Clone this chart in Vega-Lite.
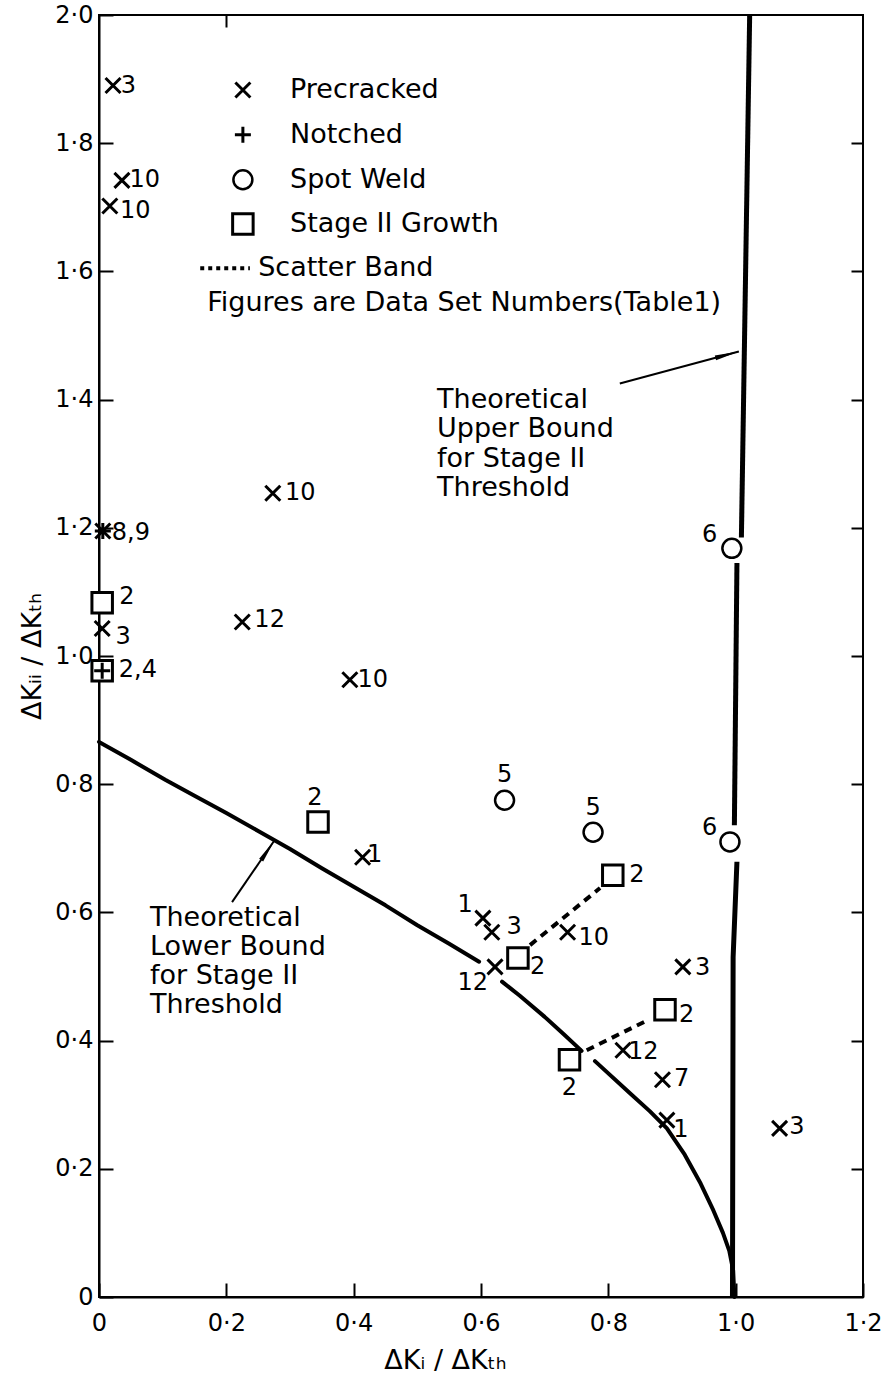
{
  "$schema": "https://vega.github.io/schema/vega-lite/v6.json",
  "width": 764,
  "height": 1282,
  "autosize": {"type": "none"},
  "padding": {"left": 99, "top": 15, "right": 20, "bottom": 91},
  "background": "white",
  "config": {
    "view": {"stroke": "black", "strokeWidth": 2},
    "font": "DejaVu Sans",
    "text": {"font": "DejaVu Sans"}
  },
  "datasets": {
    "pts": [
      {"type": "Precracked", "x": 0.022, "y": 1.89},
      {"type": "Precracked", "x": 0.036, "y": 1.742},
      {"type": "Precracked", "x": 0.017, "y": 1.702},
      {"type": "Precracked", "x": 0.006, "y": 1.195},
      {"type": "Precracked", "x": 0.005, "y": 1.043},
      {"type": "Precracked", "x": 0.273, "y": 1.254},
      {"type": "Precracked", "x": 0.225, "y": 1.053},
      {"type": "Precracked", "x": 0.394, "y": 0.963},
      {"type": "Precracked", "x": 0.414, "y": 0.686},
      {"type": "Precracked", "x": 0.603, "y": 0.591},
      {"type": "Precracked", "x": 0.617, "y": 0.569},
      {"type": "Precracked", "x": 0.736, "y": 0.569},
      {"type": "Precracked", "x": 0.622, "y": 0.515},
      {"type": "Precracked", "x": 0.917, "y": 0.515},
      {"type": "Precracked", "x": 0.823, "y": 0.385},
      {"type": "Precracked", "x": 0.885, "y": 0.339},
      {"type": "Precracked", "x": 0.892, "y": 0.276},
      {"type": "Precracked", "x": 1.069, "y": 0.263},
      {"type": "Notched", "x": 0.006, "y": 1.195},
      {"type": "Notched", "x": 0.005, "y": 0.977},
      {"type": "Spot Weld", "x": 0.637, "y": 0.775},
      {"type": "Spot Weld", "x": 0.776, "y": 0.725},
      {"type": "Spot Weld", "x": 0.994, "y": 1.168},
      {"type": "Spot Weld", "x": 0.991, "y": 0.71},
      {"type": "Stage II Growth", "x": 0.005, "y": 1.083},
      {"type": "Stage II Growth", "x": 0.005, "y": 0.977},
      {"type": "Stage II Growth", "x": 0.344, "y": 0.741},
      {"type": "Stage II Growth", "x": 0.807, "y": 0.658},
      {"type": "Stage II Growth", "x": 0.658, "y": 0.529},
      {"type": "Stage II Growth", "x": 0.889, "y": 0.448},
      {"type": "Stage II Growth", "x": 0.739, "y": 0.37},
      {"type": "Precracked", "x": 0.226, "y": 1.883, "key": true},
      {"type": "Notched", "x": 0.226, "y": 1.813, "key": true},
      {"type": "Spot Weld", "x": 0.226, "y": 1.743, "key": true},
      {"type": "Stage II Growth", "x": 0.226, "y": 1.674, "key": true}
    ],
    "nums": [
      {"label": "3", "x": 0.046, "y": 1.89},
      {"label": "10", "x": 0.072, "y": 1.742},
      {"label": "10", "x": 0.057, "y": 1.694},
      {"label": "8,9", "x": 0.05, "y": 1.192},
      {"label": "2", "x": 0.044, "y": 1.092},
      {"label": "3", "x": 0.038, "y": 1.03},
      {"label": "2,4", "x": 0.061, "y": 0.978},
      {"label": "10", "x": 0.316, "y": 1.254},
      {"label": "12", "x": 0.268, "y": 1.056},
      {"label": "10", "x": 0.43, "y": 0.963},
      {"label": "2", "x": 0.339, "y": 0.778},
      {"label": "1", "x": 0.433, "y": 0.69},
      {"label": "5", "x": 0.637, "y": 0.814},
      {"label": "5", "x": 0.776, "y": 0.763},
      {"label": "6", "x": 0.959, "y": 1.189},
      {"label": "6", "x": 0.959, "y": 0.732},
      {"label": "1", "x": 0.575, "y": 0.612},
      {"label": "3", "x": 0.652, "y": 0.577},
      {"label": "10", "x": 0.777, "y": 0.56},
      {"label": "2", "x": 0.689, "y": 0.515},
      {"label": "12", "x": 0.587, "y": 0.49},
      {"label": "2", "x": 0.845, "y": 0.658},
      {"label": "3", "x": 0.948, "y": 0.513},
      {"label": "2", "x": 0.923, "y": 0.44},
      {"label": "12", "x": 0.855, "y": 0.382},
      {"label": "2", "x": 0.739, "y": 0.326},
      {"label": "7", "x": 0.915, "y": 0.34},
      {"label": "1", "x": 0.914, "y": 0.26},
      {"label": "3", "x": 1.096, "y": 0.265}
    ],
    "notes": [
      {"text": "Precracked", "x": 0.3, "y": 1.883},
      {"text": "Notched", "x": 0.3, "y": 1.813},
      {"text": "Spot Weld", "x": 0.3, "y": 1.743},
      {"text": "Stage II Growth", "x": 0.3, "y": 1.674},
      {"text": "Scatter Band", "x": 0.25, "y": 1.605},
      {"text": "Figures are Data Set Numbers(Table1)", "x": 0.17, "y": 1.551},
      {"text": "Theoretical", "x": 0.531, "y": 1.4},
      {"text": "Upper Bound", "x": 0.531, "y": 1.354},
      {"text": "for Stage II", "x": 0.531, "y": 1.308},
      {"text": "Threshold", "x": 0.531, "y": 1.262},
      {"text": "Theoretical", "x": 0.08, "y": 0.591},
      {"text": "Lower Bound", "x": 0.08, "y": 0.546},
      {"text": "for Stage II", "x": 0.08, "y": 0.501},
      {"text": "Threshold", "x": 0.08, "y": 0.456}
    ],
    "curves": [
      {"kind": "lower", "seg": "a", "i": 1, "x": 0, "y": 0.866},
      {"kind": "lower", "seg": "a", "i": 2, "x": 0.05, "y": 0.838},
      {"kind": "lower", "seg": "a", "i": 3, "x": 0.104, "y": 0.807},
      {"kind": "lower", "seg": "a", "i": 4, "x": 0.15, "y": 0.782},
      {"kind": "lower", "seg": "a", "i": 5, "x": 0.2, "y": 0.755},
      {"kind": "lower", "seg": "a", "i": 6, "x": 0.25, "y": 0.727},
      {"kind": "lower", "seg": "a", "i": 7, "x": 0.3, "y": 0.699},
      {"kind": "lower", "seg": "a", "i": 8, "x": 0.35, "y": 0.669},
      {"kind": "lower", "seg": "a", "i": 9, "x": 0.4, "y": 0.64},
      {"kind": "lower", "seg": "a", "i": 10, "x": 0.45, "y": 0.611},
      {"kind": "lower", "seg": "a", "i": 11, "x": 0.5, "y": 0.58},
      {"kind": "lower", "seg": "a", "i": 12, "x": 0.55, "y": 0.551},
      {"kind": "lower", "seg": "a", "i": 13, "x": 0.597, "y": 0.523},
      {"kind": "lower", "seg": "b", "i": 1, "x": 0.633, "y": 0.492},
      {"kind": "lower", "seg": "b", "i": 2, "x": 0.661, "y": 0.47},
      {"kind": "lower", "seg": "b", "i": 3, "x": 0.7, "y": 0.437},
      {"kind": "lower", "seg": "b", "i": 4, "x": 0.73, "y": 0.41},
      {"kind": "lower", "seg": "b", "i": 5, "x": 0.758, "y": 0.384},
      {"kind": "lower", "seg": "c", "i": 1, "x": 0.779, "y": 0.368},
      {"kind": "lower", "seg": "c", "i": 2, "x": 0.834, "y": 0.318},
      {"kind": "lower", "seg": "c", "i": 3, "x": 0.865, "y": 0.29},
      {"kind": "lower", "seg": "c", "i": 4, "x": 0.892, "y": 0.263},
      {"kind": "lower", "seg": "c", "i": 5, "x": 0.92, "y": 0.222},
      {"kind": "lower", "seg": "c", "i": 6, "x": 0.945, "y": 0.177},
      {"kind": "lower", "seg": "c", "i": 7, "x": 0.965, "y": 0.135},
      {"kind": "lower", "seg": "c", "i": 8, "x": 0.98, "y": 0.1},
      {"kind": "lower", "seg": "c", "i": 9, "x": 0.99, "y": 0.072},
      {"kind": "lower", "seg": "c", "i": 10, "x": 0.996, "y": 0.042},
      {"kind": "lower", "seg": "c", "i": 11, "x": 0.998, "y": 0.0},
      {"kind": "upper", "seg": "u1", "i": 1, "x": 1.022, "y": 2.0},
      {"kind": "upper", "seg": "u1", "i": 2, "x": 1.009, "y": 1.185},
      {"kind": "upper", "seg": "u2", "i": 1, "x": 1.002, "y": 1.145},
      {"kind": "upper", "seg": "u2", "i": 2, "x": 0.998, "y": 0.736},
      {"kind": "upper", "seg": "u3", "i": 1, "x": 1.002, "y": 0.679},
      {"kind": "upper", "seg": "u3", "i": 2, "x": 0.996, "y": 0.53},
      {"kind": "upper", "seg": "u3", "i": 3, "x": 0.995, "y": 0.0},
      {"kind": "band", "seg": "s1", "i": 1, "x": 0.677, "y": 0.549},
      {"kind": "band", "seg": "s1", "i": 2, "x": 0.787, "y": 0.638},
      {"kind": "band", "seg": "s2", "i": 1, "x": 0.766, "y": 0.385},
      {"kind": "band", "seg": "s2", "i": 2, "x": 0.862, "y": 0.432},
      {"kind": "key", "seg": "k", "i": 1, "x": 0.159, "y": 1.605},
      {"kind": "key", "seg": "k", "i": 2, "x": 0.237, "y": 1.605}
    ],
    "arrows": [
      {"id": "upper", "x": 0.818, "y": 1.425, "x2": 1.005, "y2": 1.475},
      {"id": "lower", "x": 0.209, "y": 0.616, "x2": 0.276, "y2": 0.713}
    ]
  },
  "resolve": {"axis": {"x": "independent", "y": "independent"}},
  "encoding": {
    "x": {"field": "x", "type": "quantitative", "scale": {"domain": [0, 1.2], "nice": false, "zero": false}, "axis": null},
    "y": {"field": "y", "type": "quantitative", "scale": {"domain": [0, 2], "nice": false, "zero": false}, "axis": null}
  },
  "layer": [
    {
      "data": {"name": "curves"},
      "transform": [{"filter": "datum.kind === 'lower'"}],
      "mark": {"type": "line", "color": "black", "strokeWidth": 4, "strokeCap": "round", "strokeJoin": "round"},
      "encoding": {
        "x": {"field": "x", "type": "quantitative", "scale": {"domain": [0, 1.2], "nice": false, "zero": false},
          "axis": {"orient": "bottom", "values": [0, 0.2, 0.4, 0.6, 0.8, 1.0, 1.2], "labelExpr": "datum.value == 0 ? '0' : replace(format(datum.value, '.1f'), '.', '·')",
            "tickSize": -14, "tickWidth": 2, "tickColor": "black", "domainColor": "black", "domainWidth": 2, "grid": false,
            "labelFont": "DejaVu Sans", "labelFontSize": 24, "labelColor": "black", "labelPadding": 28, "labelFlush": false,
            "title": "ΔKᵢ / ΔKₜₕ", "titleFont": "DejaVu Sans", "titleFontSize": 27, "titleFontWeight": "normal", "titleColor": "black", "titlePadding": 12, "titleX": 346}},
        "y": {"field": "y", "type": "quantitative", "scale": {"domain": [0, 2], "nice": false, "zero": false},
          "axis": {"orient": "left", "values": [0, 0.2, 0.4, 0.6, 0.8, 1.0, 1.2, 1.4, 1.6, 1.8, 2.0], "labelExpr": "datum.value == 0 ? '0' : replace(format(datum.value, '.1f'), '.', '·')",
            "tickSize": -14, "tickWidth": 2, "tickColor": "black", "domainColor": "black", "domainWidth": 2, "grid": false,
            "labelFont": "DejaVu Sans", "labelFontSize": 24, "labelColor": "black", "labelPadding": 20, "labelFlush": false,
            "title": "ΔKᵢᵢ / ΔKₜₕ", "titleFont": "DejaVu Sans", "titleFontSize": 27, "titleFontWeight": "normal", "titleColor": "black", "titlePadding": 8}},
        "detail": {"field": "seg"},
        "order": {"field": "i"}
      }
    },
    {
      "data": {"name": "curves"},
      "transform": [{"filter": "datum.kind === 'upper'"}],
      "mark": {"type": "line", "color": "black", "strokeWidth": 5},
      "encoding": {
        "x": {"field": "x", "type": "quantitative",
          "axis": {"orient": "top", "values": [0.2], "labels": false, "title": null, "tickSize": -12, "tickWidth": 2, "tickColor": "black", "domain": false, "grid": false}},
        "y": {"field": "y", "type": "quantitative",
          "axis": {"orient": "right", "values": [0.2, 0.4, 0.6, 0.8, 1.0, 1.2, 1.4, 1.6, 1.8], "labels": false, "title": null, "tickSize": -12, "tickWidth": 2, "tickColor": "black", "domain": false, "grid": false}},
        "detail": {"field": "seg"},
        "order": {"field": "i"}
      }
    },
    {
      "data": {"name": "curves"},
      "transform": [{"filter": "datum.kind === 'band'"}],
      "mark": {"type": "line", "color": "black", "strokeWidth": 4, "strokeDash": [8, 6]},
      "encoding": {"detail": {"field": "seg"}, "order": {"field": "i"}}
    },
    {
      "data": {"name": "curves"},
      "transform": [{"filter": "datum.kind === 'key'"}],
      "mark": {"type": "line", "color": "black", "strokeWidth": 4, "strokeDash": [4, 4]},
      "encoding": {"detail": {"field": "seg"}, "order": {"field": "i"}}
    },
    {
      "data": {"name": "arrows"},
      "mark": {"type": "rule", "color": "black", "strokeWidth": 2},
      "encoding": {"x2": {"field": "x2"}, "y2": {"field": "y2"}}
    },
    {
      "data": {"name": "arrows"},
      "transform": [{"filter": "datum.id === 'upper'"}],
      "mark": {"type": "point", "shape": "M0,0L0.28,2.8L-0.28,2.8Z", "filled": true, "color": "black", "size": 300, "angle": 75, "opacity": 1},
      "encoding": {"x": {"field": "x2", "type": "quantitative"}, "y": {"field": "y2", "type": "quantitative"}}
    },
    {
      "data": {"name": "arrows"},
      "transform": [{"filter": "datum.id === 'lower'"}],
      "mark": {"type": "point", "shape": "M0,0L0.28,2.8L-0.28,2.8Z", "filled": true, "color": "black", "size": 300, "angle": 34, "opacity": 1},
      "encoding": {"x": {"field": "x2", "type": "quantitative"}, "y": {"field": "y2", "type": "quantitative"}}
    },
    {
      "data": {"name": "pts"},
      "transform": [{"filter": "datum.type === 'Spot Weld'"}],
      "mark": {"type": "point", "shape": "circle", "filled": false, "fill": "white", "stroke": "black", "strokeWidth": 2.5, "size": 360, "opacity": 1}
    },
    {
      "data": {"name": "pts"},
      "transform": [{"filter": "datum.type === 'Stage II Growth'"}],
      "mark": {"type": "point", "shape": "square", "filled": false, "fill": "white", "stroke": "black", "strokeWidth": 3, "size": 420, "opacity": 1}
    },
    {
      "data": {"name": "pts"},
      "transform": [{"filter": "datum.type === 'Precracked'"}],
      "mark": {"type": "point", "shape": "M-1,-1L1,1M-1,1L1,-1", "filled": false, "stroke": "black", "strokeWidth": 3, "size": 225, "opacity": 1}
    },
    {
      "data": {"name": "pts"},
      "transform": [{"filter": "datum.type === 'Notched'"}],
      "mark": {"type": "point", "shape": "M-1,0L1,0M0,-1L0,1", "filled": false, "stroke": "black", "strokeWidth": 3, "size": 256, "opacity": 1}
    },
    {
      "data": {"name": "nums"},
      "mark": {"type": "text", "font": "DejaVu Sans", "fontSize": 24, "color": "black", "align": "center", "baseline": "middle"},
      "encoding": {"text": {"field": "label"}}
    },
    {
      "data": {"name": "notes"},
      "mark": {"type": "text", "font": "DejaVu Sans", "fontSize": 27, "color": "black", "align": "left", "baseline": "middle"},
      "encoding": {"text": {"field": "text"}}
    }
  ]
}
